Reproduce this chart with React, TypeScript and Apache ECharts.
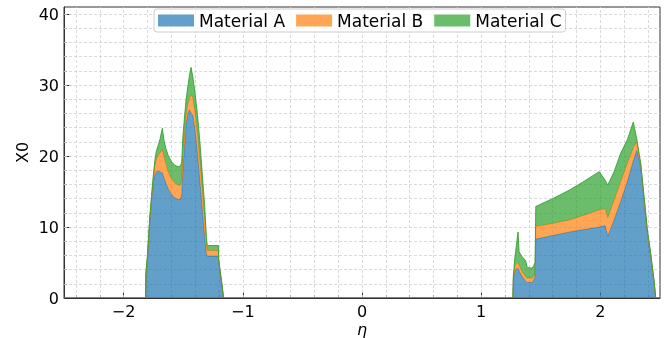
import React, { useEffect, useRef } from 'react';
import * as echarts from 'echarts';

// eta positions (shared by all three materials)
const etaValues = [
  -2.5, -1.815, -1.813, -1.8, -1.78, -1.766, -1.752, -1.738, -1.724, -1.71, -1.696, -1.675,
  -1.662, -1.646, -1.626, -1.598, -1.57, -1.543, -1.523, -1.512, -1.503, -1.489, -1.476,
  -1.461, -1.447, -1.434, -1.42, -1.4, -1.38, -1.36, -1.34, -1.32, -1.305, -1.298, -1.205,
  -1.203, -1.19, -1.175, -1.162,
  1.266, 1.27, 1.282, 1.296, 1.309, 1.318, 1.344, 1.372, 1.386, 1.428, 1.442, 1.452, 1.458,
  1.6, 1.74, 1.85, 1.99, 2.04, 2.062, 2.115, 2.17, 2.226, 2.276, 2.305, 2.338, 2.366, 2.394,
  2.422, 2.45, 2.464, 2.5,
];

const materialA = [
  0, 0, 3.2, 5.6, 11.0, 13.6, 16.0, 17.4, 17.8, 17.9, 17.8, 17.6,
  17.0, 16.2, 15.4, 14.6, 14.1, 13.9, 13.9, 14.6, 18.0, 21.5, 24.4,
  26.0, 26.5, 26.0, 25.8, 23.6, 20.3, 16.5, 12.5, 8.5, 6.2, 5.9, 5.9,
  5.3, 3.6, 1.8, 0,
  0, 2.7, 3.8, 4.1, 4.2, 3.8, 3.0, 2.4, 2.2, 2.2, 2.6, 3.0, 8.3,
  8.8, 9.3, 9.6, 10.0, 10.2, 8.7, 11.0, 13.6, 16.4, 19.3, 20.8, 18.6, 13.9, 9.2,
  5.9, 2.2, 0, 0,
];

const materialB = [
  0, 0, 0.15, 0.2, 0.25, 0.35, 0.6, 1.2, 1.8, 2.2, 2.6, 3.3,
  3.0, 2.7, 2.4, 2.2, 2.1, 2.0, 2.0, 2.0, 2.0, 1.6, 1.3,
  1.3, 1.7, 2.6, 2.5, 2.5, 2.8, 2.8, 2.6, 2.4, 1.2, 0.8, 0.8,
  0.15, 0.1, 0.1, 0,
  0, 0.3, 0.6, 0.8, 0.8, 0.8, 0.7, 0.6, 0.6, 0.6, 0.5, 0.5, 1.8,
  1.7, 1.7, 2.0, 2.4, 2.4, 2.6, 2.8, 2.8, 2.6, 1.9, 1.2, 0.2, 0.2, 0.2,
  0.2, 0.15, 0, 0,
];

const materialC = [
  0, 0, 0.15, 0.2, 0.25, 0.35, 0.5, 0.8, 1.2, 1.4, 1.9, 3.0,
  2.3, 2.2, 2.3, 2.4, 2.5, 2.6, 2.7, 2.6, 2.7, 2.4, 2.2,
  2.5, 3.2, 3.9, 2.9, 2.7, 2.7, 2.7, 2.4, 2.1, 1.1, 0.7, 0.7,
  0.1, 0.1, 0.1, 0,
  0, 0.2, 1.2, 2.6, 4.3, 1.9, 2.1, 2.3, 1.5, 1.4, 1.5, 1.5, 2.8,
  3.5, 4.2, 4.7, 5.4, 4.0, 4.6, 4.0, 4.0, 3.3, 3.6, 0.4, 0.2, 0.2, 0.2,
  0.2, 0.15, 0, 0,
];

const seriesNames = ['Material A', 'Material B', 'Material C'];
const xMajorTicks = [-2, -1, 0, 1, 2];
const xMinorTicks = [
  -2.4, -2.2, -1.8, -1.6, -1.4, -1.2, -0.8, -0.6, -0.4, -0.2,
  0.2, 0.4, 0.6, 0.8, 1.2, 1.4, 1.6, 1.8, 2.2, 2.4,
];
const yMajorTicks = [0, 10, 20, 30, 40];
const yMinorTicks = [2, 4, 6, 8, 12, 14, 16, 18, 22, 24, 26, 28, 32, 34, 36, 38];

export default function App() {
  const ref = useRef<HTMLDivElement>(null);

  useEffect(() => {
    const chart = echarts.init(ref.current!, null, { renderer: 'svg' });
    const font = 'DejaVu Sans';
    const fillColors = ['rgba(31,119,180,0.7)', 'rgba(255,127,14,0.7)', 'rgba(44,160,44,0.7)'];
    const edgeColors = ['rgba(31,119,180,0.8)', 'rgba(255,127,14,0.8)', 'rgba(44,160,44,0.85)'];
    const legendColors = ['rgb(98,160,203)', 'rgb(255,165,86)', 'rgb(107,189,107)'];
    const fmt = (v: number) => (v < 0 ? '\u2212' + Math.abs(v) : String(v));
    const values = [materialA, materialB, materialC];

    // cumulative stacking
    const levels: number[][] = [etaValues.map(() => 0)];
    values.forEach((vals, i) => {
      levels.push(vals.map((v, k) => levels[i][k] + v));
    });

    const gridData: any[] = [
      ...[...xMajorTicks, ...xMinorTicks].map((v) => ({ xAxis: v })),
      ...[...yMajorTicks, ...yMinorTicks].filter((v) => v > 0).map((v) => ({ yAxis: v })),
    ];

    const areaSeries = values.map((_, i) => ({
      name: seriesNames[i],
      type: 'custom',
      xAxisIndex: 0,
      yAxisIndex: 0,
      z: 3 + i,
      clip: true,
      silent: true,
      itemStyle: { color: legendColors[i] },
      data: [[0, 0]],
      renderItem: (_params: any, api: any) => {
        const top = etaValues.map((x, k) => api.coord([x, levels[i + 1][k]]));
        const bottom = etaValues.map((x, k) => api.coord([x, levels[i][k]])).reverse();
        return {
          type: 'group',
          children: [
            {
              type: 'polygon',
              shape: { points: top.concat(bottom) },
              style: { fill: fillColors[i], stroke: null },
            },
            {
              type: 'polyline',
              shape: { points: top },
              style: { fill: null, stroke: edgeColors[i], lineWidth: 1 },
            },
          ],
        };
      },
    }));

    chart.setOption({
      animation: false,
      grid: {
        left: 64,
        right: 5,
        top: 7,
        bottom: 40,
        show: true,
        borderColor: '#333',
        borderWidth: 1,
        backgroundColor: 'transparent',
        outerBoundsMode: 'none',
        containLabel: false,
      },
      legend: {
        data: seriesNames.map((n, i) => ({
          name: n,
          itemStyle: { color: legendColors[i], borderWidth: 0 },
        })),
        icon: 'rect',
        itemWidth: 36,
        itemHeight: 12,
        itemGap: 11,
        left: 154,
        top: 9,
        padding: [3, 4],
        borderColor: '#cccccc',
        borderWidth: 1,
        borderRadius: 3,
        backgroundColor: 'rgba(255,255,255,0.8)',
        textStyle: { fontSize: 17, fontFamily: font, color: '#000' },
      },
      xAxis: [
        {
          type: 'value',
          min: -2.5,
          max: 2.5,
          name: '\u03b7',
          nameLocation: 'middle',
          nameGap: 23,
          nameMoveOverlap: false,
          nameTextStyle: { fontSize: 16, fontFamily: font, fontStyle: 'italic', color: '#000' },
          axisLine: { show: true, onZero: false, lineStyle: { color: '#333', width: 1 } },
          axisTick: { show: true, inside: true, length: 6, customValues: xMajorTicks, lineStyle: { color: '#333' } },
          axisLabel: { customValues: xMajorTicks, formatter: fmt, fontSize: 16, fontFamily: font, color: '#000', margin: 5 },
          splitLine: { show: false },
        },
        {
          type: 'value',
          min: -2.5,
          max: 2.5,
          position: 'bottom',
          axisLine: { show: false, onZero: false },
          axisTick: { show: true, inside: true, length: 3, customValues: xMinorTicks, lineStyle: { color: '#333' } },
          axisLabel: { show: false },
          splitLine: { show: false },
        },
      ],
      yAxis: [
        {
          type: 'value',
          min: 0,
          max: 41,
          name: 'X0',
          nameLocation: 'middle',
          nameGap: 34,
          nameMoveOverlap: false,
          nameTextStyle: { fontSize: 16, fontFamily: font, color: '#000' },
          axisLine: { show: true, onZero: false, lineStyle: { color: '#333', width: 1 } },
          axisTick: { show: true, inside: true, length: 6, customValues: yMajorTicks, lineStyle: { color: '#333' } },
          axisLabel: { customValues: yMajorTicks, fontSize: 16, fontFamily: font, color: '#000', margin: 5 },
          splitLine: { show: false },
        },
        {
          type: 'value',
          min: 0,
          max: 41,
          position: 'left',
          axisLine: { show: false, onZero: false },
          axisTick: { show: true, inside: true, length: 3, customValues: yMinorTicks, lineStyle: { color: '#333' } },
          axisLabel: { show: false },
          splitLine: { show: false },
        },
      ],
      series: [
        {
          name: 'grid-lines',
          type: 'line',
          xAxisIndex: 0,
          yAxisIndex: 0,
          data: [],
          z: 1,
          silent: true,
          markLine: {
            silent: true,
            z: 1,
            symbol: ['none', 'none'],
            label: { show: false },
            emphasis: { disabled: true },
            lineStyle: { color: '#d0d0d0', type: [3, 2], width: 0.8 },
            data: gridData,
          },
        },
        ...areaSeries,
      ],
    });

    return () => chart.dispose();
  }, []);

  return <div ref={ref} style={{ position: 'fixed', left: 0, top: 0, width: 665, height: 338 }} />;
}
